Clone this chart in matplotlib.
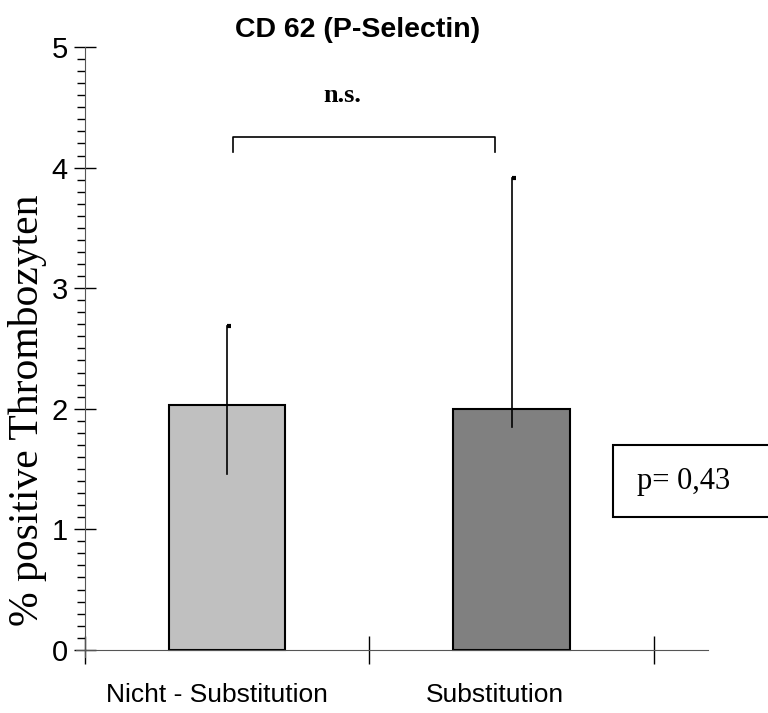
import matplotlib
matplotlib.use("Agg")
import matplotlib.pyplot as plt
import numpy as np
from matplotlib.ticker import MultipleLocator, FixedLocator
from matplotlib.patches import Rectangle

# Daten
kategorien = ["Nicht - Substitution", "Substitution"]
mittelwerte = [2.03, 2.00]
fehler_oben = [0.66, 1.91]
fehler_unten = [0.57, 0.15]
farben = ["#c0c0c0", "#808080"]
p_text = "p= 0,43"
sig_text = "n.s."

plt.rcParams["font.family"] = ["Liberation Sans", "DejaVu Sans"]

fig = plt.figure(figsize=(7.68, 7.13), dpi=100)
ax = fig.add_axes([0.099, 0.0785, 0.823, 0.8555])

x = np.array([0.5, 1.5])
ax.bar(x, mittelwerte, width=0.41, color=farben, edgecolor="black", linewidth=1.5, zorder=2)

# Fehlerbalken: nur Linie + kleines Kästchen oben
for xi, m, fo, fu in zip(x, mittelwerte, fehler_oben, fehler_unten):
    ax.plot([xi, xi], [m - fu, m + fo], color="black", lw=1.2, zorder=3)
    ax.plot([xi, xi + 0.014], [m + fo, m + fo], color="black", lw=3, solid_capstyle="butt", zorder=3)

# Klammer für Signifikanz
ax.plot([0.52, 0.52, 1.44, 1.44], [4.13, 4.25, 4.25, 4.13], color="black", lw=1.2)
ax.text(0.905, 4.6, sig_text, ha="center", va="center", fontsize=19, fontweight="bold",
        family="Liberation Serif")

ax.set_xlim(-0.03, 2.19)
ax.set_ylim(-0.06, 5)
ax.spines["top"].set_visible(False)
ax.spines["right"].set_visible(False)
ax.spines["left"].set_position(("data", 0))
ax.spines["bottom"].set_position(("data", 0))
ax.spines["left"].set_bounds(-0.06, 5)
ax.spines["left"].set_color("#555555")
ax.spines["bottom"].set_color("#555555")

ax.yaxis.set_major_locator(MultipleLocator(1))
ax.yaxis.set_minor_locator(MultipleLocator(0.1))
ax.tick_params(axis="y", which="major", direction="inout", length=16, width=1, labelsize=21, pad=4)
ax.tick_params(axis="y", which="minor", direction="out", length=6, width=1)

# Beschriftungen sitzen im Original etwas links der Balkenmitte
ax.xaxis.set_major_locator(FixedLocator([0, 1, 2]))
ax.xaxis.set_minor_locator(FixedLocator([0.465, 1.44]))
ax.set_xticklabels([])
ax.set_xticklabels(kategorien, minor=True)
ax.tick_params(axis="x", which="major", direction="inout", length=20, width=1)
ax.tick_params(axis="x", which="minor", length=0, labelsize=19, pad=24)

fig.text(28 / 768, 1 - 410 / 713, "% positive Thrombozyten", rotation=90, ha="center", va="center",
         family="Liberation Serif", fontsize=30)

fig.text(0.465, 0.958, "CD 62 (P-Selectin)", ha="center", va="center", fontsize=20.5, fontweight="bold")

# Kasten mit p-Wert (rechts angeschnitten wie im Original)
fig.patches.append(Rectangle((613 / 768, 1 - 517 / 713), 170 / 768, 72 / 713,
                             transform=fig.transFigure, fc="white", ec="black", lw=1.5, zorder=5))
fig.text(637 / 768, 1 - 481 / 713, p_text, ha="left", va="center", fontsize=22,
         family="Liberation Serif", zorder=6)

fig.savefig("out.png", dpi=100)
